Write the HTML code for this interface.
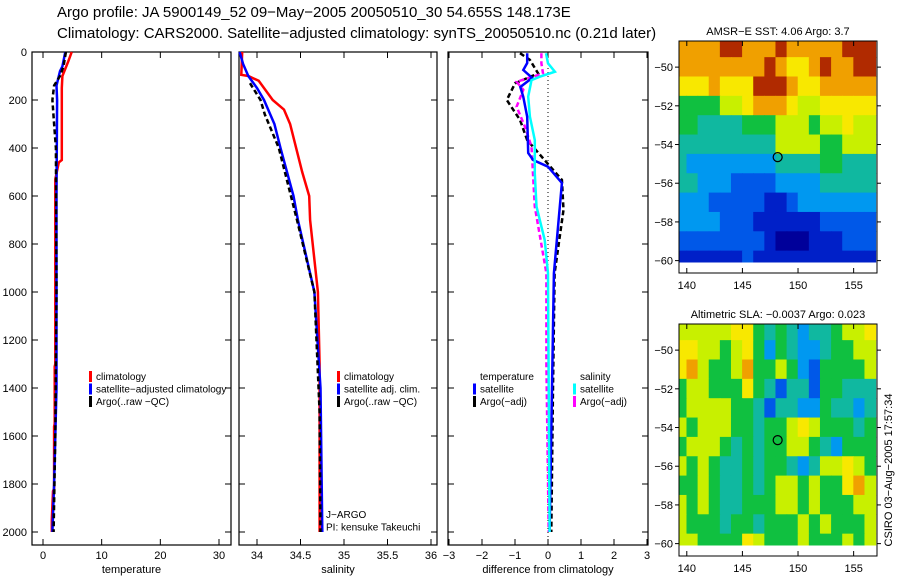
<!DOCTYPE html>
<html><head><meta charset="utf-8"><style>
body{margin:0;background:#fff;}
svg{display:block;font-family:"Liberation Sans",sans-serif;}
</style></head><body>
<svg id="fig" width="900" height="580" viewBox="0 0 900 580">
<text x="57" y="17" font-size="15">Argo profile: JA 5900149_52 09−May−2005 20050510_30 54.655S 148.173E</text>
<text x="57" y="38" font-size="15">Climatology: CARS2000. Satellite−adjusted climatology: synTS_20050510.nc (0.21d later)</text>
</svg>
<script>
// ---------- DATA ----------
const depthTicks=[0,200,400,600,800,1000,1200,1400,1600,1800,2000];
const tempTicks=[0,10,20,30];
const salTicks=[34,34.5,35,35.5,36];
const salTickLabels=["34","34.5","35","35.5","36"];
const diffTicks=[-3,-2,-1,0,1,2,3];
const tempClimDepth=[0,40,100,150,450,460,530,1300,1310,1550,1560,1820,1830,1950,2000];
const tempClimVal=[4.9,4.3,3.3,3.2,3.2,2.7,2.1,2.1,2.0,2.0,1.9,1.9,1.7,1.5,1.5];
const tempSatDepth=[0,60,80,140,200,600,1000,1400,1800,2000];
const tempSatVal=[3.8,3.3,2.9,2.3,2.4,2.3,2.3,2.3,1.9,1.6];
const tempArgoDepth=[0,60,100,140,200,300,400,1000,1600,2000];
const tempArgoVal=[3.9,3.5,2.9,1.9,1.6,1.9,2.2,2.3,2.1,1.8];
const salClimDepth=[0,95,100,120,160,200,240,300,500,600,700,1000,1300,2000];
const salClimVal=[33.83,33.82,33.9,34.02,34.1,34.18,34.31,34.38,34.52,34.6,34.61,34.7,34.72,34.72];
const salSatDepth=[0,50,100,150,200,300,400,600,700,1000,1400,2000];
const salSatVal=[33.8,33.84,33.9,34.0,34.08,34.2,34.27,34.42,34.47,34.66,34.73,34.75];
const salArgoDepth=[130,200,260,400,700,1000,1500,2000];
const salArgoVal=[33.92,34.04,34.09,34.25,34.46,34.66,34.72,34.73];
const dTSatDepth=[5,46,75,108,146,187,270,421,450,478,546,922,1400,2000];
const dTSatVal=[-0.63,-0.63,-0.75,-0.48,-0.84,-0.75,-0.63,-0.6,-0.45,0,0.42,0.18,0.12,0.05];
const dSSatDepth=[5,47,82,103,117,186,269,367,506,644,783,922,1400,2000];
const dSSatVal=[-0.06,0,0.21,-0.25,-0.5,-0.6,-0.55,-0.4,-0.4,-0.35,-0.1,0,0.02,0.05];
const dTArgoDepth=[5,33,89,131,200,283,367,533,658,922,1400,2000];
const dTArgoVal=[-0.85,-0.55,-0.3,-1.0,-1.25,-0.85,-0.63,0.42,0.47,0.2,0.15,0.1];
const dSArgoDepth=[5,47,89,124,158,228,311,394,644,922,1300,2000];
const dSArgoVal=[-0.2,-0.2,-0.15,-0.95,-0.75,-0.95,-0.7,-0.5,-0.4,-0.05,-0.05,0.02];
const mapLonTicks=[140,145,150,155];
const mapLatTicks=[-50,-52,-54,-56,-58,-60];
const argoLon=148.17, argoLat=-54.65;
const sstGrid=[
[8,8,8,8,9,9,8,8,8,9,8,8,8,8,8,9,9,9],
[8,8,8,8,8,8,8,8,9,8,7,7,8,9,8,8,9,9],
[7,7,7,8,7,7,7,9,9,9,8,7,7,8,8,8,8,8],
[5,5,5,5,6,6,7,8,8,8,7,6,6,7,7,7,7,7],
[5,5,4,4,4,4,5,5,5,6,6,6,5,6,6,7,6,6],
[4,4,4,4,4,4,4,4,4,6,6,6,6,5,5,6,6,6],
[4,3,3,3,3,3,3,3,3,4,4,4,4,5,5,4,4,4],
[4,4,3,3,3,2,2,2,2,3,3,3,3,4,4,4,4,4],
[3,3,3,2,2,2,2,2,1,1,2,3,3,3,3,3,3,3],
[3,3,3,3,2,2,2,1,1,1,1,1,1,2,2,2,2,2],
[2,2,2,2,2,2,2,2,1,0,0,0,1,1,1,2,2,2],
[1,1,1,1,1,1,2,1,1,1,1,1,1,1,1,1,1,1]];
const slaGrid=[
[6,6,6,6,6,7,7,5,4,5,4,3,4,4,5,6,6,7],
[7,7,6,6,5,6,7,5,3,5,4,3,3,4,5,5,6,6],
[7,8,6,5,5,6,8,5,5,6,5,3,2,5,5,5,5,6],
[5,6,6,5,5,5,7,5,4,2,4,4,2,5,5,4,4,4],
[5,6,6,6,6,5,5,4,2,4,4,3,3,5,4,4,3,4],
[6,5,6,6,6,5,5,4,5,5,6,7,6,5,5,5,4,5],
[5,6,6,6,5,4,5,4,5,5,6,6,5,4,3,5,5,5],
[6,5,6,5,4,4,5,4,5,5,4,3,4,6,6,7,6,5],
[5,5,6,5,4,4,5,4,5,6,6,5,6,5,5,7,8,6],
[6,5,6,5,4,4,5,5,5,6,6,5,6,5,5,5,6,6],
[6,5,5,5,4,5,5,4,5,5,5,6,5,6,5,5,5,6],
[6,6,5,5,5,5,7,6,5,5,5,6,5,5,5,6,5,6]];
const palette=["#00009a","#0020c8","#0058e8","#0098f0","#10b8a0","#10c040","#c8f000","#f8e800","#f0a000","#b02a00"];

// ---------- HELPERS ----------
const NS="http://www.w3.org/2000/svg";
const svg=document.getElementById('fig');
function mk(tag,attrs,parent){const e=document.createElementNS(NS,tag);for(const k in attrs)e.setAttribute(k,attrs[k]);(parent||svg).appendChild(e);return e;}
const dTop=52, dScale=0.24;
function yD(d){return dTop+d*dScale;}
function lin(v0,p0,v1,p1){return v=>p0+(v-v0)*(p1-p0)/(v1-v0);}
const xT=lin(0,43,30,219), xS=lin(34,257,36,431), xDf=lin(0,548,3,647);

function panel(name,x0,x1,ticks,labels,xf,xlabel,showDepthLabels){
  const g=mk('g',{});
  
  
  const fr=mk('rect',{x:x0,y:52,width:x1-x0,height:493,fill:'none',stroke:'#000','stroke-width':1.2},g);
  
  
  ticks.forEach((t,i)=>{const x=xf(t);
    mk('line',{x1:x,x2:x,y1:52,y2:58,stroke:'#000'},g);
    mk('line',{x1:x,x2:x,y1:545,y2:539,stroke:'#000'},g);
    const tl=mk('text',{x:x,y:559,'font-size':11,'text-anchor':'middle'},g);
    tl.textContent=labels[i];
    
    
  });
  depthTicks.forEach(d=>{const y=yD(d);
    mk('line',{x1:x0,x2:x0+6,y1:y,y2:y,stroke:'#000'},g);
    mk('line',{x1:x1,x2:x1-6,y1:y,y2:y,stroke:'#000'},g);
    if(showDepthLabels){const tl=mk('text',{x:27,y:y+4,'font-size':11,'text-anchor':'end'},g);
      tl.textContent=d;
      
      }
  });
  const xl=mk('text',{x:(x0+x1)/2,y:573,'font-size':11,'text-anchor':'middle'},g);
  xl.textContent=xlabel;
  
  
  return g;
}
function series(g,name,depths,vals,xf,color,dash,w){
  const pts=depths.map((d,i)=>xf(vals[i]).toFixed(1)+','+yD(d).toFixed(1)).join(' ');
  const p=mk('polyline',{points:pts,fill:'none',stroke:color,'stroke-width':w||2.5,'stroke-dasharray':dash||'none'},g);
  
  
}
function legend(g,x,y,entries){
  entries.forEach((e,i)=>{const yy=y+i*12.5;
    if(e[0]){const m=mk('rect',{x:x,y:yy-9,width:3,height:11,fill:e[0]},g);
      
      }
    const t=mk('text',{x:x+7,y:yy,'font-size':10},g);
    t.textContent=e[1];
    
    
  });
}

// ---------- PANELS ----------
const p1=panel('temperature-panel',32,231,tempTicks,tempTicks.map(String),xT,'temperature',true);
series(p1,'temp-climatology-line',tempClimDepth,tempClimVal,xT,'#f00');
series(p1,'temp-satellite-line',tempSatDepth,tempSatVal,xT,'#00f');
series(p1,'temp-argo-line',tempArgoDepth,tempArgoVal,xT,'#000','5,3');
legend(p1,89,380,[['#f00','climatology'],['#00f','satellite−adjusted climatology'],['#000','Argo(..raw −QC)']]);

const p2=panel('salinity-panel',239,437,salTicks,salTickLabels,xS,'salinity',false);
series(p2,'sal-climatology-line',salClimDepth,salClimVal,xS,'#f00');
series(p2,'sal-satellite-line',salSatDepth,salSatVal,xS,'#00f');
series(p2,'sal-argo-line',salArgoDepth,salArgoVal,xS,'#000','5,3');
legend(p2,337,380,[['#f00','climatology'],['#00f','satellite adj. clim.'],['#000','Argo(..raw −QC)']]);
legend(p2,319,518,[[null,'J−ARGO'],[null,'PI: kensuke Takeuchi']]);

const p3=panel('difference-panel',448,648,diffTicks,diffTicks.map(v=>v<0?'−'+(-v):String(v)),xDf,'difference from climatology',false);
const zl=mk('line',{x1:xDf(0),x2:xDf(0),y1:52,y2:545,stroke:'#000','stroke-dasharray':'1,3'},p3);


series(p3,'diff-temp-argo-line',dTArgoDepth,dTArgoVal,xDf,'#000','5,3');
series(p3,'diff-sal-argo-line',dSArgoDepth,dSArgoVal,xDf,'#f0f','5,3');
series(p3,'diff-temp-satellite-line',dTSatDepth,dTSatVal,xDf,'#00f');
series(p3,'diff-sal-satellite-line',dSSatDepth,dSSatVal,xDf,'#0ff');
legend(p3,473,380,[[null,'temperature'],['#00f','satellite'],['#000','Argo(−adj)']]);
legend(p3,573,380,[[null,'salinity'],['#0ff','satellite'],['#f0f','Argo(−adj)']]);

// ---------- MAPS ----------
function map(name,grid,top,title){
  const g=mk('g',{});
  
  
  const x0=679,x1=877,lonL=139.3,lonR=157.1;
  const xL=lin(lonL,x0,lonR,x1);
  const latTop=-48.65, ppd=19.35;
  const yL=lat=>top+(latTop-lat)*ppd;
  const clipId=name+'-clip';
  const cp=mk('clipPath',{id:clipId},g);
  mk('rect',{x:x0,y:top,width:x1-x0,height:yL(-60.1)-top},cp);
  const cells=mk('g',{'clip-path':'url(#'+clipId+')'},g);
  grid.forEach((row,r)=>{row.forEach((v,c)=>{
    const lon=139+c, lat=-48.5-r;
    const rc=mk('rect',{x:xL(lon)-0.3,y:yL(lat)-0.3,width:xL(lon+1)-xL(lon)+0.6,height:ppd+0.6,fill:palette[v]},cells);
    
    
  });});
  const bottom=top+232;
  const fr=mk('rect',{x:x0,y:top,width:x1-x0,height:bottom-top,fill:'none',stroke:'#000'},g);
  
  
  mapLonTicks.forEach(l=>{const x=xL(l);
    mk('line',{x1:x,x2:x,y1:top,y2:top+5,stroke:'#000'},g);
    mk('line',{x1:x,x2:x,y1:bottom,y2:bottom-5,stroke:'#000'},g);
    const t=mk('text',{x:x,y:bottom+16,'font-size':11,'text-anchor':'middle'},g);
    t.textContent=l;
    
    
  });
  mapLatTicks.forEach(l=>{const y=yL(l);
    mk('line',{x1:x0,x2:x0-4,y1:y,y2:y,stroke:'#000'},g);
    mk('line',{x1:x1,x2:x1+4,y1:y,y2:y,stroke:'#000'},g);
    const t=mk('text',{x:x0-6,y:y+4,'font-size':11,'text-anchor':'end'},g);
    t.textContent='−'+(-l);
    
    
  });
  const c=mk('circle',{cx:xL(argoLon),cy:yL(argoLat),r:4.5,fill:'none',stroke:'#000','stroke-width':1.2},g);
  
  
  const t=mk('text',{x:778,y:top-6,'font-size':11,'text-anchor':'middle'},g);
  t.textContent=title;
  
  
}
map('sst-map',sstGrid,41,'AMSR−E SST: 4.06 Argo: 3.7');
map('sla-map',slaGrid,324,'Altimetric SLA: −0.0037 Argo: 0.023');
const st=mk('text',{x:0,y:0,'font-size':11,'text-anchor':'middle',transform:'translate(892,470) rotate(-90)'});
st.textContent='CSIRO 03−Aug−2005 17:57:34';


</script>
</body></html>
